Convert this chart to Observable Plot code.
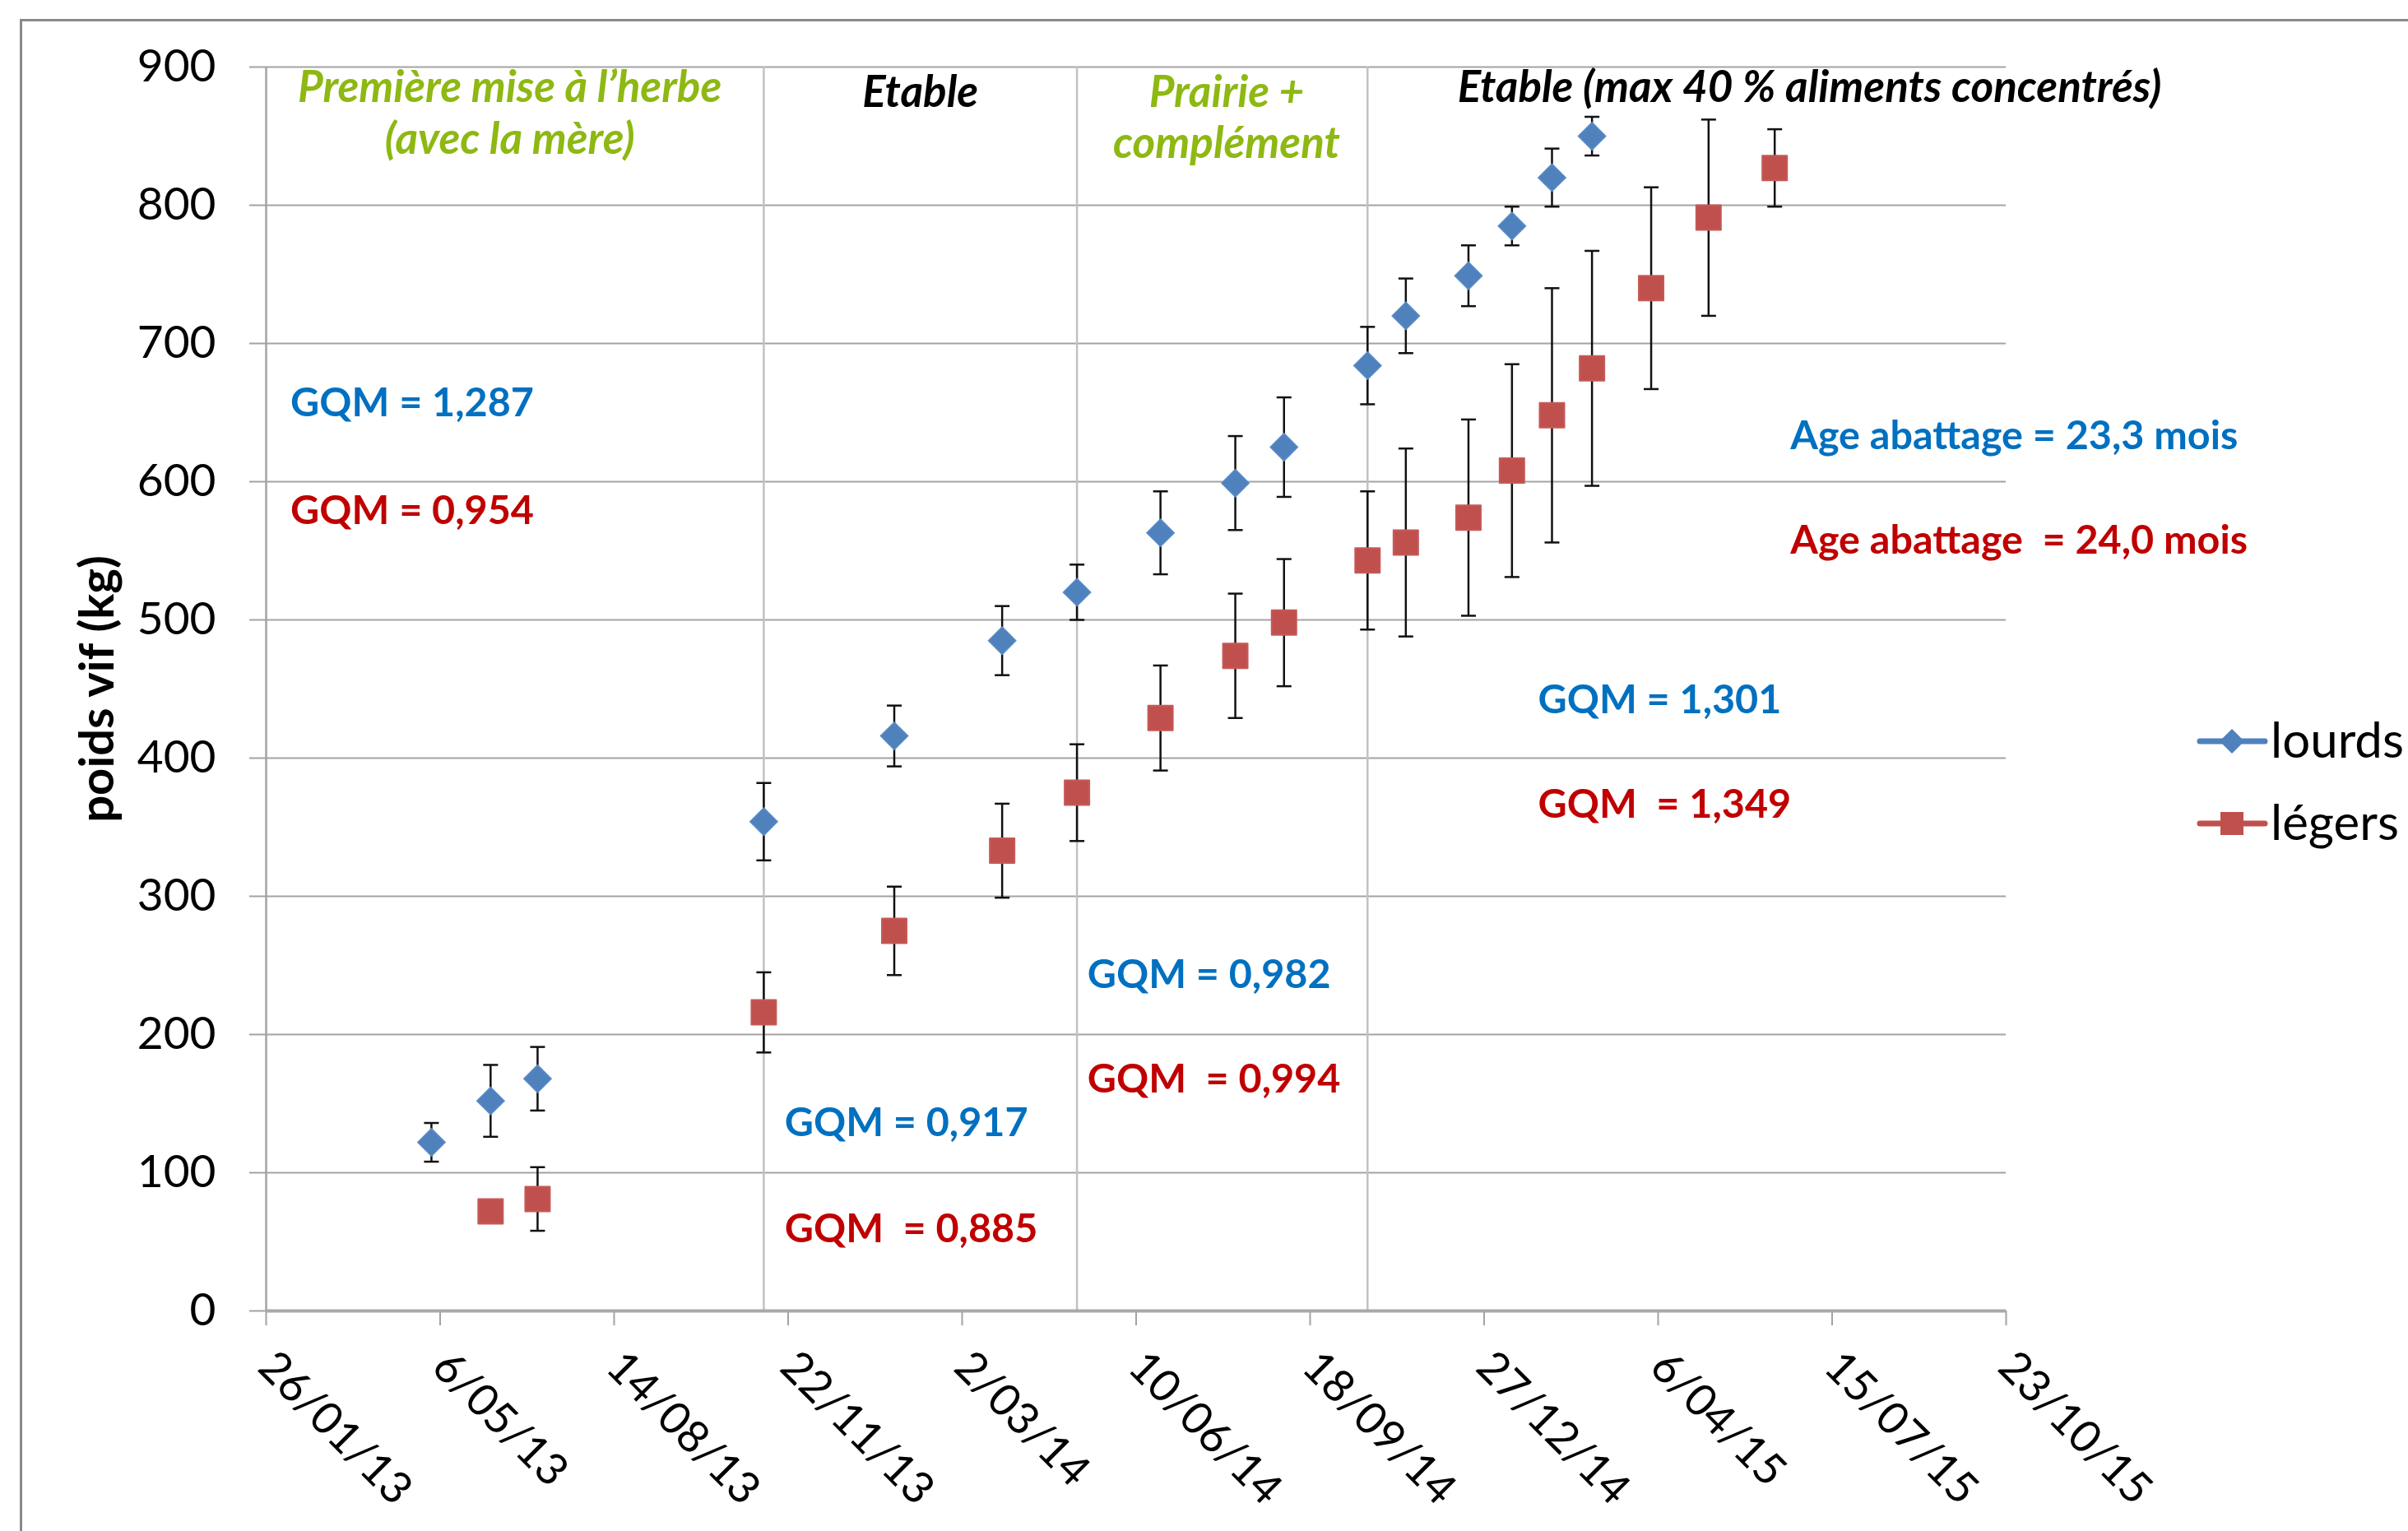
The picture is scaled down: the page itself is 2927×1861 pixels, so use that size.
<!DOCTYPE html>
<html>
<head>
<meta charset="utf-8">
<script src="https://cdn.jsdelivr.net/npm/d3@7"></script>
<script src="https://cdn.jsdelivr.net/npm/@observablehq/plot@0.6"></script>
<style>
html, body { margin: 0; padding: 0; background: #fff; }
#wrap { position: relative; width: 2927px; height: 1861px; overflow: hidden; font-family: Lato, sans-serif; }
#frame { position: absolute; left: 24px; top: 23px; right: -10px; bottom: -10px;
  border-left: 3px solid #8a8a8a; border-top: 3px solid #8a8a8a; pointer-events: none; }
#chart { position: absolute; left: 0; top: 0; }
#legend { position: absolute; left: 2660px; top: 850px; }
svg text { white-space: pre; }
</style>
</head>
<body>
<div id="wrap"><div id="chart"></div><div id="frame"></div><div id="legend"></div></div>
<script>
// ---------------- data ----------------
const xTickLabels = ["26/01/13", "6/05/13", "14/08/13", "22/11/13", "2/03/14", "10/06/14",
  "18/09/14", "27/12/14", "6/04/15", "15/07/15", "23/10/15"];
const yTicks = [0, 100, 200, 300, 400, 500, 600, 700, 800, 900];

const lourdsDates = ["2013-05-01", "2013-06-04", "2013-07-01", "2013-11-08", "2014-01-22", "2014-03-25",
  "2014-05-07", "2014-06-24", "2014-08-06", "2014-09-03", "2014-10-21", "2014-11-12",
  "2014-12-18", "2015-01-12", "2015-02-04", "2015-02-27"];
const lourdsMean = [122, 152, 168, 354, 416, 485, 520, 563, 599, 625, 684, 720, 749, 785, 820, 850];
const lourdsSD = [14, 26, 23, 28, 22, 25, 20, 30, 34, 36, 28, 27, 22, 14, 21, 14];

const legersDates = ["2013-06-04", "2013-07-01", "2013-11-08", "2014-01-22", "2014-03-25", "2014-05-07",
  "2014-06-24", "2014-08-06", "2014-09-03", "2014-10-21", "2014-11-12", "2014-12-18",
  "2015-01-12", "2015-02-04", "2015-02-27", "2015-04-02", "2015-05-05", "2015-06-12"];
const legersMean = [72, 81, 216, 275, 333, 375, 429, 474, 498, 543, 556, 574, 608, 648, 682, 740, 791, 827];
const legersSD = [null, 23, 29, 32, 34, 35, 38, 45, 46, 50, 68, 71, 77, 92, 85, 73, 71, 28];

const seriesNames = ["lourds", "légers"];
const phaseDates = ["2013-11-08", "2014-05-07", "2014-10-21"];

// ---------------- annotations (data coordinates) ----------------
const headings = [
  {text: "Première mise à l’herbe", date: "2013-06-15", value: 875, green: true},
  {text: "(avec la mère)", date: "2013-06-15", value: 837, green: true},
  {text: "Etable", date: "2014-02-06", value: 871, green: false},
  {text: "Prairie +", date: "2014-08-01", value: 871, green: true},
  {text: "complément", date: "2014-08-01", value: 834, green: true},
  {text: "Etable (max 40 % aliments concentrés)", date: "2015-07-02", value: 875, green: false}
];
const blueNotes = [
  {text: "GQM = 1,287", date: "2013-02-09", value: 647.5},
  {text: "GQM = 0,917", date: "2013-11-20", value: 126.3},
  {text: "GQM = 0,982", date: "2014-05-13", value: 233.5},
  {text: "GQM = 1,301", date: "2015-01-27", value: 432.4},
  {text: "Age abattage = 23,3 mois", date: "2015-06-21", value: 623.6}
];
const redNotes = [
  {text: "GQM = 0,954", date: "2013-02-09", value: 569.4},
  {text: "GQM  = 0,885", date: "2013-11-20", value: 50},
  {text: "GQM  = 0,994", date: "2014-05-13", value: 157.8},
  {text: "GQM  = 1,349", date: "2015-01-27", value: 356.8},
  {text: "Age abattage  = 24,0 mois", date: "2015-06-21", value: 548}
];

// ---------------- build ----------------
const parseTick = d3.utcParse("%d/%m/%y");
const fmtTick = d3.utcFormat("%-d/%m/%y");
const xTicks = xTickLabels.map(parseTick);

const BLUE = "#4F81BD", RED = "#C0504D";
const GREEN_TXT = "#8EB812", BLUE_TXT = "#0070C0", RED_TXT = "#C00000";
const GRID = "#a3a3a3";

const lourds = lourdsDates.map((d, i) => ({series: seriesNames[0], date: new Date(d), mean: lourdsMean[i], sd: lourdsSD[i]}));
const legers = legersDates.map((d, i) => ({series: seriesNames[1], date: new Date(d), mean: legersMean[i], sd: legersSD[i]}));
const all = lourds.concat(legers).filter(d => d.sd != null);
const caps = all.flatMap(d => [{date: d.date, v: d.mean - d.sd}, {date: d.date, v: d.mean + d.sd}]);

const capSymbol = {
  draw(context, size) {
    const w = Math.sqrt(size) / 2;
    context.moveTo(-w, 0);
    context.lineTo(w, 0);
  }
};
const rOf = side => Math.sqrt(side * side / Math.PI);

const toD = d => new Date(d.date);

const chart = Plot.plot({
  width: 2927,
  height: 1861,
  marginLeft: 323,
  marginRight: 489,
  marginTop: 81,
  marginBottom: 268,
  style: {fontFamily: "Lato, sans-serif", fontSize: "55px", color: "#000", background: "transparent", overflow: "visible"},
  x: {type: "utc", domain: [xTicks[0], xTicks[xTicks.length - 1]]},
  y: {domain: [0, 900]},
  marks: [
    Plot.ruleY(yTicks.filter(v => v > 0), {stroke: GRID, strokeWidth: 2}),
    Plot.ruleX(phaseDates.map(d => new Date(d)), {y1: 0, y2: 900, stroke: "#c2c2c2", strokeWidth: 2.5}),
    Plot.ruleX([xTicks[0]], {stroke: GRID, strokeWidth: 2.5}),
    Plot.axisY(yTicks, {tickSize: 20, tickPadding: 41, stroke: GRID, strokeWidth: 2, fill: "#000", fontSize: 55, label: null}),
    Plot.axisX(xTicks, {tickFormat: fmtTick, tickSize: 18, tickPadding: 41, tickRotate: 45,
      textAnchor: "start", lineAnchor: "middle", stroke: GRID, strokeWidth: 2, fill: "#000", fontSize: 54, label: null}),
    Plot.ruleY([0], {stroke: "#a8a8a8", strokeWidth: 4}),
    // error bars
    Plot.ruleX(all, {x: "date", y1: d => d.mean - d.sd, y2: d => d.mean + d.sd, stroke: "#111", strokeWidth: 2.5}),
    Plot.dot(caps, {x: "date", y: "v", symbol: capSymbol, r: rOf(18), fill: "none", stroke: "#111", strokeWidth: 2.5}),
    // markers
    Plot.dot(lourds, {x: "date", y: "mean", symbol: "diamond2", r: 15, fill: BLUE, stroke: "#5a8cc7", strokeWidth: 1.5}),
    Plot.dot(legers, {x: "date", y: "mean", symbol: "square", r: rOf(30), fill: RED, stroke: "#c55a57", strokeWidth: 2, strokeLinejoin: "round"}),
    // headings
    Plot.text(headings.filter(d => d.green), {x: toD, y: "value", text: "text", fill: GREEN_TXT, lineAnchor: "bottom",
      textAnchor: "middle", fontSize: 53, fontWeight: "bold", fontStyle: "italic"}),
    Plot.text(headings.filter(d => !d.green), {x: toD, y: "value", text: "text", fill: "#000", lineAnchor: "bottom",
      textAnchor: "middle", fontSize: 53, fontWeight: "bold", fontStyle: "italic"}),
    // GQM notes
    Plot.text(blueNotes, {x: toD, y: "value", text: "text", fill: BLUE_TXT, lineAnchor: "bottom",
      textAnchor: "start", fontSize: 48.5, fontWeight: "bold"}),
    Plot.text(redNotes, {x: toD, y: "value", text: "text", fill: RED_TXT, lineAnchor: "bottom",
      textAnchor: "start", fontSize: 48.5, fontWeight: "bold"}),
    // y label
    Plot.text(["poids vif (kg)"], {frameAnchor: "left", rotate: -90, dx: -204, text: d => d, fill: "#000",
      fontSize: 58, fontWeight: "bold", lineAnchor: "middle", textAnchor: "middle"})
  ]
});
document.getElementById("chart").appendChild(chart);

// ---------------- legend ----------------
const lg = d3.select("#legend").append("svg").attr("width", 267).attr("height", 200)
  .style("font-family", "Lato, sans-serif").style("overflow", "visible");
const rows = [
  {name: seriesNames[0], color: BLUE, y: 51, sym: "diamond"},
  {name: seriesNames[1], color: RED, y: 151, sym: "square"}
];
rows.forEach(r => {
  lg.append("line").attr("x1", 14).attr("x2", 93).attr("y1", r.y).attr("y2", r.y)
    .attr("stroke", r.color).attr("stroke-width", 7).attr("stroke-linecap", "round");
  if (r.sym === "diamond") {
    lg.append("path").attr("d", `M53,${r.y - 15}L68,${r.y}L53,${r.y + 15}L38,${r.y}Z`).attr("fill", r.color);
  } else {
    lg.append("rect").attr("x", 39).attr("y", r.y - 14).attr("width", 28).attr("height", 28).attr("fill", r.color);
  }
  lg.append("text").attr("x", 100).attr("y", r.y + 20).attr("font-size", 60).attr("fill", "#000").text(r.name);
});
</script>
</body>
</html>
